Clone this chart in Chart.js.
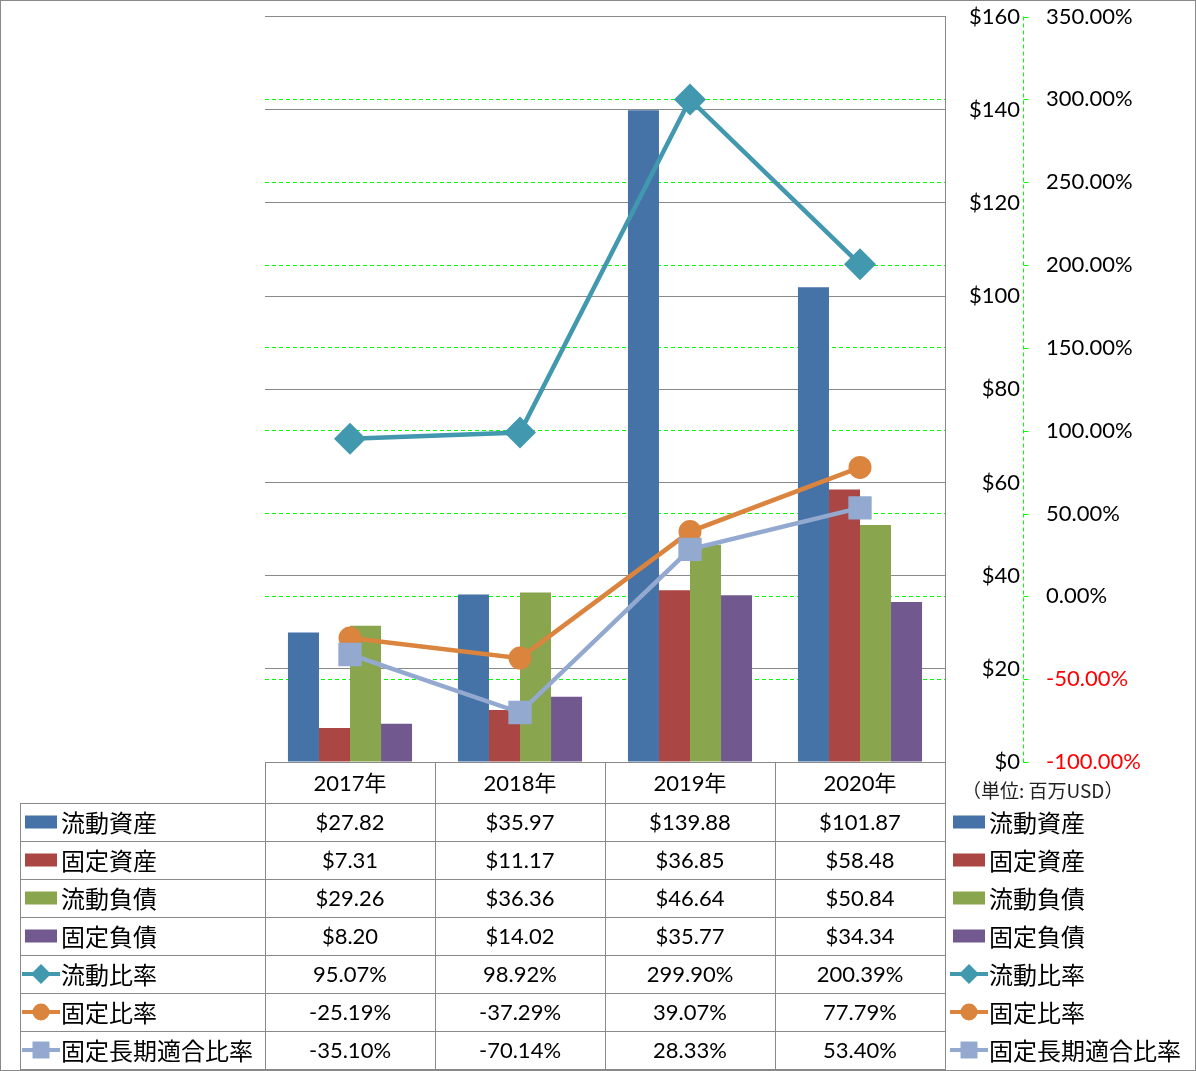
<!DOCTYPE html>
<html>
<head>
<meta charset="utf-8">
<script src="https://cdn.jsdelivr.net/npm/chart.js@4/dist/chart.umd.min.js"></script>
<style>
  html, body { margin: 0; padding: 0; background: #fff; }
  #wrap { width: 1196px; height: 1071px; position: relative; }
</style>
</head>
<body>
<div id="wrap"><canvas id="c" width="1196" height="1071"></canvas></div>
<script>
// ---- data ----
const categories = ['2017年', '2018年', '2019年', '2020年'];
const currentAssets = [27.82, 35.97, 139.88, 101.87];
const fixedAssets = [7.31, 11.17, 36.85, 58.48];
const currentLiabilities = [29.26, 36.36, 46.64, 50.84];
const fixedLiabilities = [8.20, 14.02, 35.77, 34.34];
const currentRatio = [95.07, 98.92, 299.90, 200.39];
const fixedRatio = [-25.19, -37.29, 39.07, 77.79];
const fixedLongTermRatio = [-35.10, -70.14, 28.33, 53.40];
const seriesNames = ['流動資産', '固定資産', '流動負債', '固定負債', '流動比率', '固定比率', '固定長期適合比率'];
const unitText = '（単位: 百万USD）';

const LATIN = "Lato, 'Noto Sans CJK JP', sans-serif";
const CJK = "'Noto Sans CJK JP', sans-serif";
const GRAY = '#898989';
const GREEN = '#00FF00';
const AXIS_GAP = 3; // secondary axis line sits a little right of the dollar labels

const money = v => '$' + v.toFixed(2);
const pct = v => v.toFixed(2) + '%';

function drawMarker(ctx, style, x, y, r) {
  ctx.beginPath();
  if (style === 'rectRot') {
    ctx.moveTo(x, y - r); ctx.lineTo(x + r, y); ctx.lineTo(x, y + r); ctx.lineTo(x - r, y); ctx.closePath();
  } else if (style === 'circle') {
    ctx.arc(x, y, r, 0, Math.PI * 2);
  } else {
    const s = r * Math.SQRT1_2;
    ctx.rect(x - s, y - s, 2 * s, 2 * s);
  }
  ctx.fill();
}

function drawKey(ctx, ds, x0, cy) {
  ctx.save();
  if (ds.type === 'bar') {
    ctx.fillStyle = ds.backgroundColor;
    ctx.fillRect(x0, cy - 6.5, 32, 13);
  } else {
    ctx.strokeStyle = ds.borderColor;
    ctx.lineWidth = 4;
    ctx.beginPath();
    ctx.moveTo(x0 - 3, cy); ctx.lineTo(x0 + 35, cy); ctx.stroke();
    ctx.fillStyle = ds.pointBackgroundColor;
    const r = ds.pointStyle === 'rectRot' ? 10 : (ds.pointStyle === 'circle' ? 8.5 : 12);
    drawMarker(ctx, ds.pointStyle, x0 + 16, cy, r);
  }
  ctx.restore();
}

const tablePlugin = {
  id: 'dataTable',
  afterDraw(chart) {
    const ctx = chart.ctx;
    const xs = chart.scales.x, y1 = chart.scales.y1;
    const ca = chart.chartArea;
    const n = categories.length;
    const colW = (ca.right - ca.left) / n;
    const headTop = xs.top, rowsTop = xs.bottom;
    const rowH = 38;
    const dsets = chart.data.datasets;
    const nRows = dsets.length;
    const tableLeft = 20;
    const tableBottom = rowsTop + nRows * rowH;
    ctx.save();
    ctx.strokeStyle = GRAY;
    ctx.lineWidth = 1;
    const line = (x1, yA, x2, yB) => { ctx.beginPath(); ctx.moveTo(x1, yA); ctx.lineTo(x2, yB); ctx.stroke(); };
    for (let i = 0; i <= nRows; i++) {
      const y = Math.round(rowsTop + i * rowH) + 0.5;
      line(tableLeft, y, Math.round(ca.right) + 1, y);
    }
    line(tableLeft + 0.5, rowsTop, tableLeft + 0.5, tableBottom + 1);
    for (let i = 0; i <= n; i++) {
      const x = Math.round(ca.left + i * colW) + 0.5;
      line(x, headTop, x, tableBottom + 1);
    }
    // values
    ctx.fillStyle = '#000';
    ctx.textAlign = 'center';
    ctx.textBaseline = 'middle';
    ctx.font = '22px ' + LATIN;
    dsets.forEach((ds, i) => {
      const cy = rowsTop + i * rowH + rowH / 2 + 1;
      const fmt = ds.type === 'bar' ? money : pct;
      ds.data.forEach((v, j) => {
        ctx.fillText(fmt(v), xs.getPixelForValue(j), cy);
      });
    });
    // legend keys (table and right)
    ctx.textAlign = 'left';
    ctx.font = '24px ' + CJK;
    dsets.forEach((ds, i) => {
      const cy = rowsTop + i * rowH + rowH / 2;
      drawKey(ctx, ds, 25, cy);
      ctx.fillStyle = '#000';
      ctx.fillText(ds.label, 61, cy + 1);
      drawKey(ctx, ds, 953, cy);
      ctx.fillStyle = '#000';
      ctx.fillText(ds.label, 989, cy + 1);
    });
    // unit text
    ctx.font = '19px ' + CJK;
    ctx.fillStyle = '#222';
    ctx.fillText(unitText, 962, headTop + 29);
    // dashed green secondary axis line + short tick marks
    ctx.strokeStyle = GREEN;
    ctx.setLineDash([4, 3]);
    const ax = Math.round(y1.left + AXIS_GAP) + 0.5;
    line(ax, y1.top, ax, y1.bottom + 1);
    ctx.setLineDash([]);
    y1.ticks.forEach(t => {
      const py = Math.round(y1.getPixelForValue(t.value)) + 0.5;
      line(ax, py, ax + 5, py);
    });
    // outer border
    ctx.strokeStyle = GRAY;
    ctx.strokeRect(0.5, 0.5, chart.width - 1, chart.height - 1);
    ctx.restore();
  }
};

const barColors = ['#4572A7', '#AA4643', '#89A54E', '#71588F'];
const barData = [currentAssets, fixedAssets, currentLiabilities, fixedLiabilities];
const datasets = barData.map((d, i) => ({
  type: 'bar', label: seriesNames[i], data: d, yAxisID: 'y',
  backgroundColor: barColors[i], borderWidth: 0,
  categoryPercentage: 0.73, barPercentage: 1.0, order: 10 + i
}));
const lineDefs = [
  { data: currentRatio, color: '#4198AF', style: 'rectRot', r: 16, order: 2 },
  { data: fixedRatio, color: '#DB843D', style: 'circle', r: 11.5, order: 1 },
  { data: fixedLongTermRatio, color: '#93A9CF', style: 'rect', r: 16.5, order: 0 }
];
lineDefs.forEach((l, i) => datasets.push({
  type: 'line', label: seriesNames[4 + i], data: l.data, yAxisID: 'y1',
  borderColor: l.color, backgroundColor: l.color, borderWidth: 4.5,
  pointStyle: l.style, pointRadius: l.r, pointBackgroundColor: l.color,
  pointBorderColor: l.color, pointBorderWidth: 0, tension: 0, order: l.order
}));

new Chart(document.getElementById('c'), {
  data: { labels: categories, datasets },
  plugins: [tablePlugin],
  options: {
    responsive: false,
    animation: false,
    devicePixelRatio: 1,
    layout: { padding: { left: 265, top: 15, right: 0, bottom: 268 } },
    plugins: { legend: { display: false }, tooltip: { enabled: false } },
    scales: {
      x: {
        type: 'category', position: 'bottom', offset: true,
        grid: { display: false, drawTicks: false },
        border: { display: true, color: GRAY, width: 1 },
        ticks: { color: '#000', font: { family: LATIN, size: 22 }, padding: 9, maxRotation: 0, autoSkip: false },
        afterFit(s) { s.height = 41; }
      },
      y: {
        type: 'linear', position: 'right', weight: 0,
        min: 0, max: 160,
        grid: { color: GRAY, lineWidth: 1, drawTicks: true, tickLength: 23, tickColor: 'rgba(0,0,0,0)' },
        border: { display: true, color: GRAY, width: 1 },
        ticks: { stepSize: 20, crossAlign: 'far', padding: 0, color: '#000',
                 font: { family: LATIN, size: 22 }, callback: v => '$' + v },
        afterFit(s) { s.width = 75; }
      },
      y1: {
        type: 'linear', position: 'right', weight: 1,
        min: -100, max: 350,
        grid: {
          drawOnChartArea: true, drawTicks: true, tickLength: 26, tickColor: 'rgba(0,0,0,0)', lineWidth: 1,
          color: c => (c.tick && (c.tick.value === 350 || c.tick.value === -100)) ? 'rgba(0,0,0,0)' : GREEN
        },
        border: { display: false, dash: [4, 3] },
        ticks: { stepSize: 50, padding: 0, font: { family: LATIN, size: 22 },
                 color: c => (c.tick && c.tick.value < 0) ? '#FF0000' : '#000',
                 callback: v => v.toFixed(2) + '%' },
        afterFit(s) { s.width = 176; }
      }
    }
  }
});
</script>
</body>
</html>
